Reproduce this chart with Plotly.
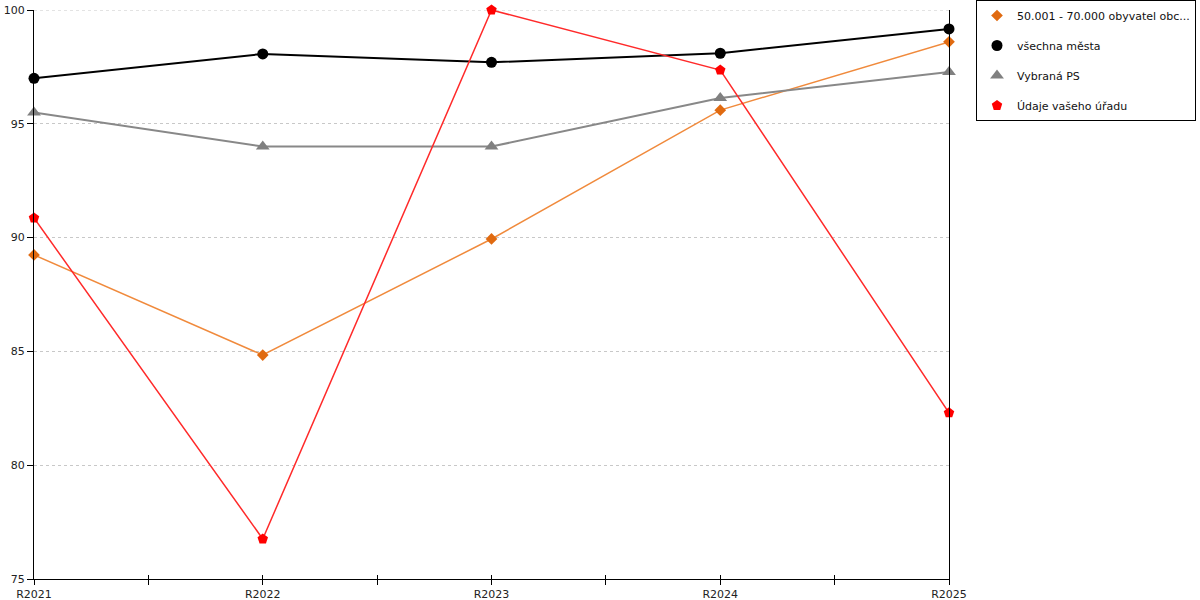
import plotly.graph_objects as go

# data
years = ["R2021", "R2022", "R2023", "R2024", "R2025"]
obyvatel = [89.24, 84.84, 89.94, 95.6, 98.6]
vsechna_mesta = [97.0, 98.07, 97.7, 98.1, 99.17]
vybrana_ps = [95.5, 94.0, 94.0, 96.13, 97.28]
vas_urad = [90.86, 76.76, 100.0, 97.36, 82.3]
y_ticks = [75, 80, 85, 90, 95, 100]

x = list(range(len(years)))

series = [
    ("50.001 - 70.000 obyvatel obc...", obyvatel, "#F08A3C", "#E06A10", "diamond", 9, 1.5),
    ("všechna města", vsechna_mesta, "#000000", "#000000", "circle", 11, 2),
    ("Vybraná PS", vybrana_ps, "#888888", "#808080", "triangle-up", 12, 2),
    ("Údaje vašeho úřadu", vas_urad, "#FF2A2A", "#FF0000", "pentagon", 11, 1.5),
]

fig = go.Figure()
for i, (name, vals, lcol, mcol, sym, size, width) in enumerate(series):
    # line (no legend entry) and markers (legend shows the marker only)
    fig.add_trace(go.Scatter(
        x=x, y=vals, name=name, mode="lines",
        line=dict(color=lcol, width=width),
        showlegend=False, legendgroup=f"g{i}", cliponaxis=False,
    ))
    fig.add_trace(go.Scatter(
        x=x, y=vals, name=name, mode="markers",
        marker=dict(symbol=sym, size=size, color=mcol),
        legendgroup=f"g{i}", cliponaxis=False,
    ))

# second x axis only for the inside half of the crossing ticks
fig.add_trace(go.Scatter(x=[0], y=[None], xaxis="x2", showlegend=False, hoverinfo="skip"))

# top gridline sits on the plot edge, plotly skips it, so draw it
fig.add_hline(y=y_ticks[-1], line=dict(color="#C8C8C8", width=1, dash="dot"), layer="below")

fig.update_layout(
    width=1200, height=600,
    margin=dict(l=34, r=251, t=10, b=21, autoexpand=False),
    plot_bgcolor="white", paper_bgcolor="white",
    font=dict(family="DejaVu Sans", size=11, color="#222222"),
    xaxis=dict(
        range=[0, 4], tickvals=x, ticktext=years,
        showgrid=False, zeroline=False, automargin=False,
        showline=True, linecolor="black", linewidth=1,
        ticks="outside", ticklen=5, tickcolor="black",
        minor=dict(tickvals=[0.5, 1.5, 2.5, 3.5], ticks="outside", ticklen=5, tickcolor="black"),
        tickfont=dict(size=11),
    ),
    xaxis2=dict(
        overlaying="x", range=[0, 4], side="bottom", anchor="y",
        tickvals=[0, 0.5, 1, 1.5, 2, 2.5, 3, 3.5, 4], ticks="inside", ticklen=4,
        tickcolor="black", showticklabels=False, showgrid=False, zeroline=False,
        automargin=False,
    ),
    yaxis=dict(
        range=[75, 100], tickvals=y_ticks,
        showgrid=True, gridcolor="#C8C8C8", griddash="dot", gridwidth=1,
        zeroline=False, showline=True, linecolor="black", linewidth=1, mirror=True,
        ticks="outside", ticklen=6, tickcolor="black", automargin=False,
        tickfont=dict(size=11),
    ),
    legend=dict(
        xref="container", yref="container",
        x=976 / 1200, y=1.0, xanchor="left", yanchor="top",
        bordercolor="black", borderwidth=1,
        font=dict(size=11, color="#111111"),
        tracegroupgap=11, traceorder="grouped",
        itemwidth=30,
    ),
    showlegend=True,
)

# page has a default 8px body margin; drop it so the figure sits at the corner
fig.write_html("out.html", config={"displayModeBar": False},
               post_script="document.body.style.margin='0';")
